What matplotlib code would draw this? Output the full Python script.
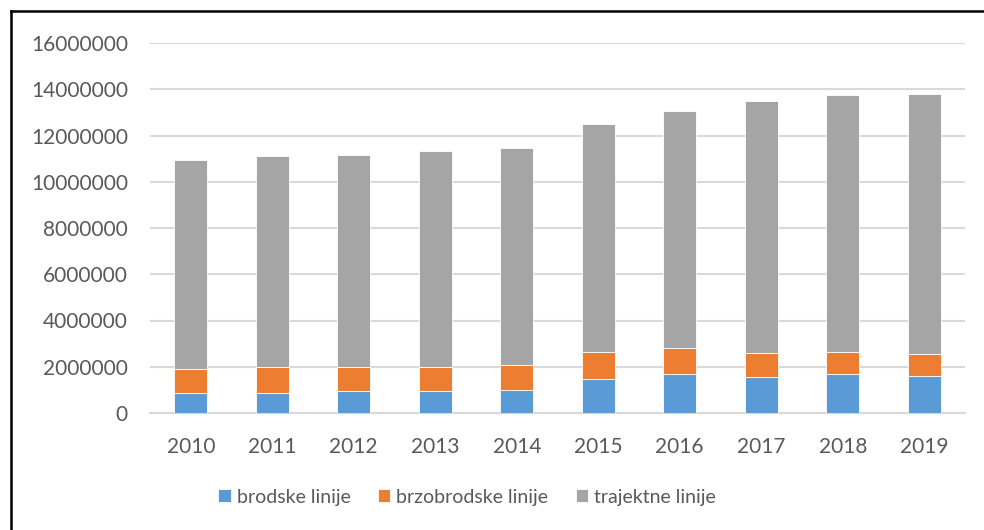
import matplotlib.pyplot as plt
from matplotlib.lines import Line2D
import numpy as np

years = ['2010', '2011', '2012', '2013', '2014', '2015', '2016', '2017', '2018', '2019']
brodske = [850000, 860000, 940000, 950000, 990000, 1470000, 1670000, 1570000, 1670000, 1610000]
brzobrodske = [1060000, 1110000, 1060000, 1040000, 1100000, 1160000, 1120000, 1020000, 960000, 950000]
trajektne = [9010000, 9130000, 9150000, 9340000, 9360000, 9860000, 10250000, 10910000, 11110000, 11240000]
series_names = ['brodske linije', 'brzobrodske linije', 'trajektne linije']
colors = ['#5B9BD5', '#ED7D31', '#A5A5A5']

plt.rcParams['font.family'] = ['Lato', 'DejaVu Sans']
text_col = '#595959'

fig = plt.figure(figsize=(9.84, 5.30), dpi=100)
ax = fig.add_axes([150 / 984, 117 / 530, 815 / 984, 370 / 530])

x = np.arange(len(years))
bottom = np.zeros(len(years))
for vals, name, col in zip([brodske, brzobrodske, trajektne], series_names, colors):
    ax.bar(x, vals, width=0.4, bottom=bottom, color=col, label=name,
           edgecolor='white', linewidth=0.6, zorder=3)
    bottom += np.array(vals)

ax.set_xlim(-0.5, len(years) - 0.5)
ax.set_ylim(0, 16000000)
ax.set_yticks(range(0, 16000001, 2000000))
ax.set_yticklabels([str(v) for v in range(0, 16000001, 2000000)])
ax.set_xticks(x)
ax.set_xticklabels(years)
ax.grid(axis='y', color='#D9D9D9', linewidth=1.5, zorder=0)
ax.tick_params(axis='y', length=0, pad=16, labelsize=15, labelcolor=text_col)
ax.tick_params(axis='x', length=0, pad=17, labelsize=15, labelcolor=text_col)
for s in ['top', 'right', 'left']:
    ax.spines[s].set_visible(False)
ax.spines['bottom'].set_color('#D9D9D9')
ax.spines['bottom'].set_linewidth(1.5)

fig.legend(loc='center', bbox_to_anchor=(467 / 984, 1 - 497 / 530), ncol=3,
           frameon=False, fontsize=14, labelcolor=text_col, handlelength=0.65,
           handleheight=0.65, handletextpad=0.3, columnspacing=1.4)

# outer frame (top and left edges)
fig.add_artist(Line2D([10.5 / 984, 1], [1 - 11 / 530, 1 - 11 / 530], color='black', linewidth=1.8))
fig.add_artist(Line2D([10.5 / 984, 10.5 / 984], [0, 1 - 11 / 530], color='black', linewidth=1.8))

fig.savefig('out.png', dpi=100)
